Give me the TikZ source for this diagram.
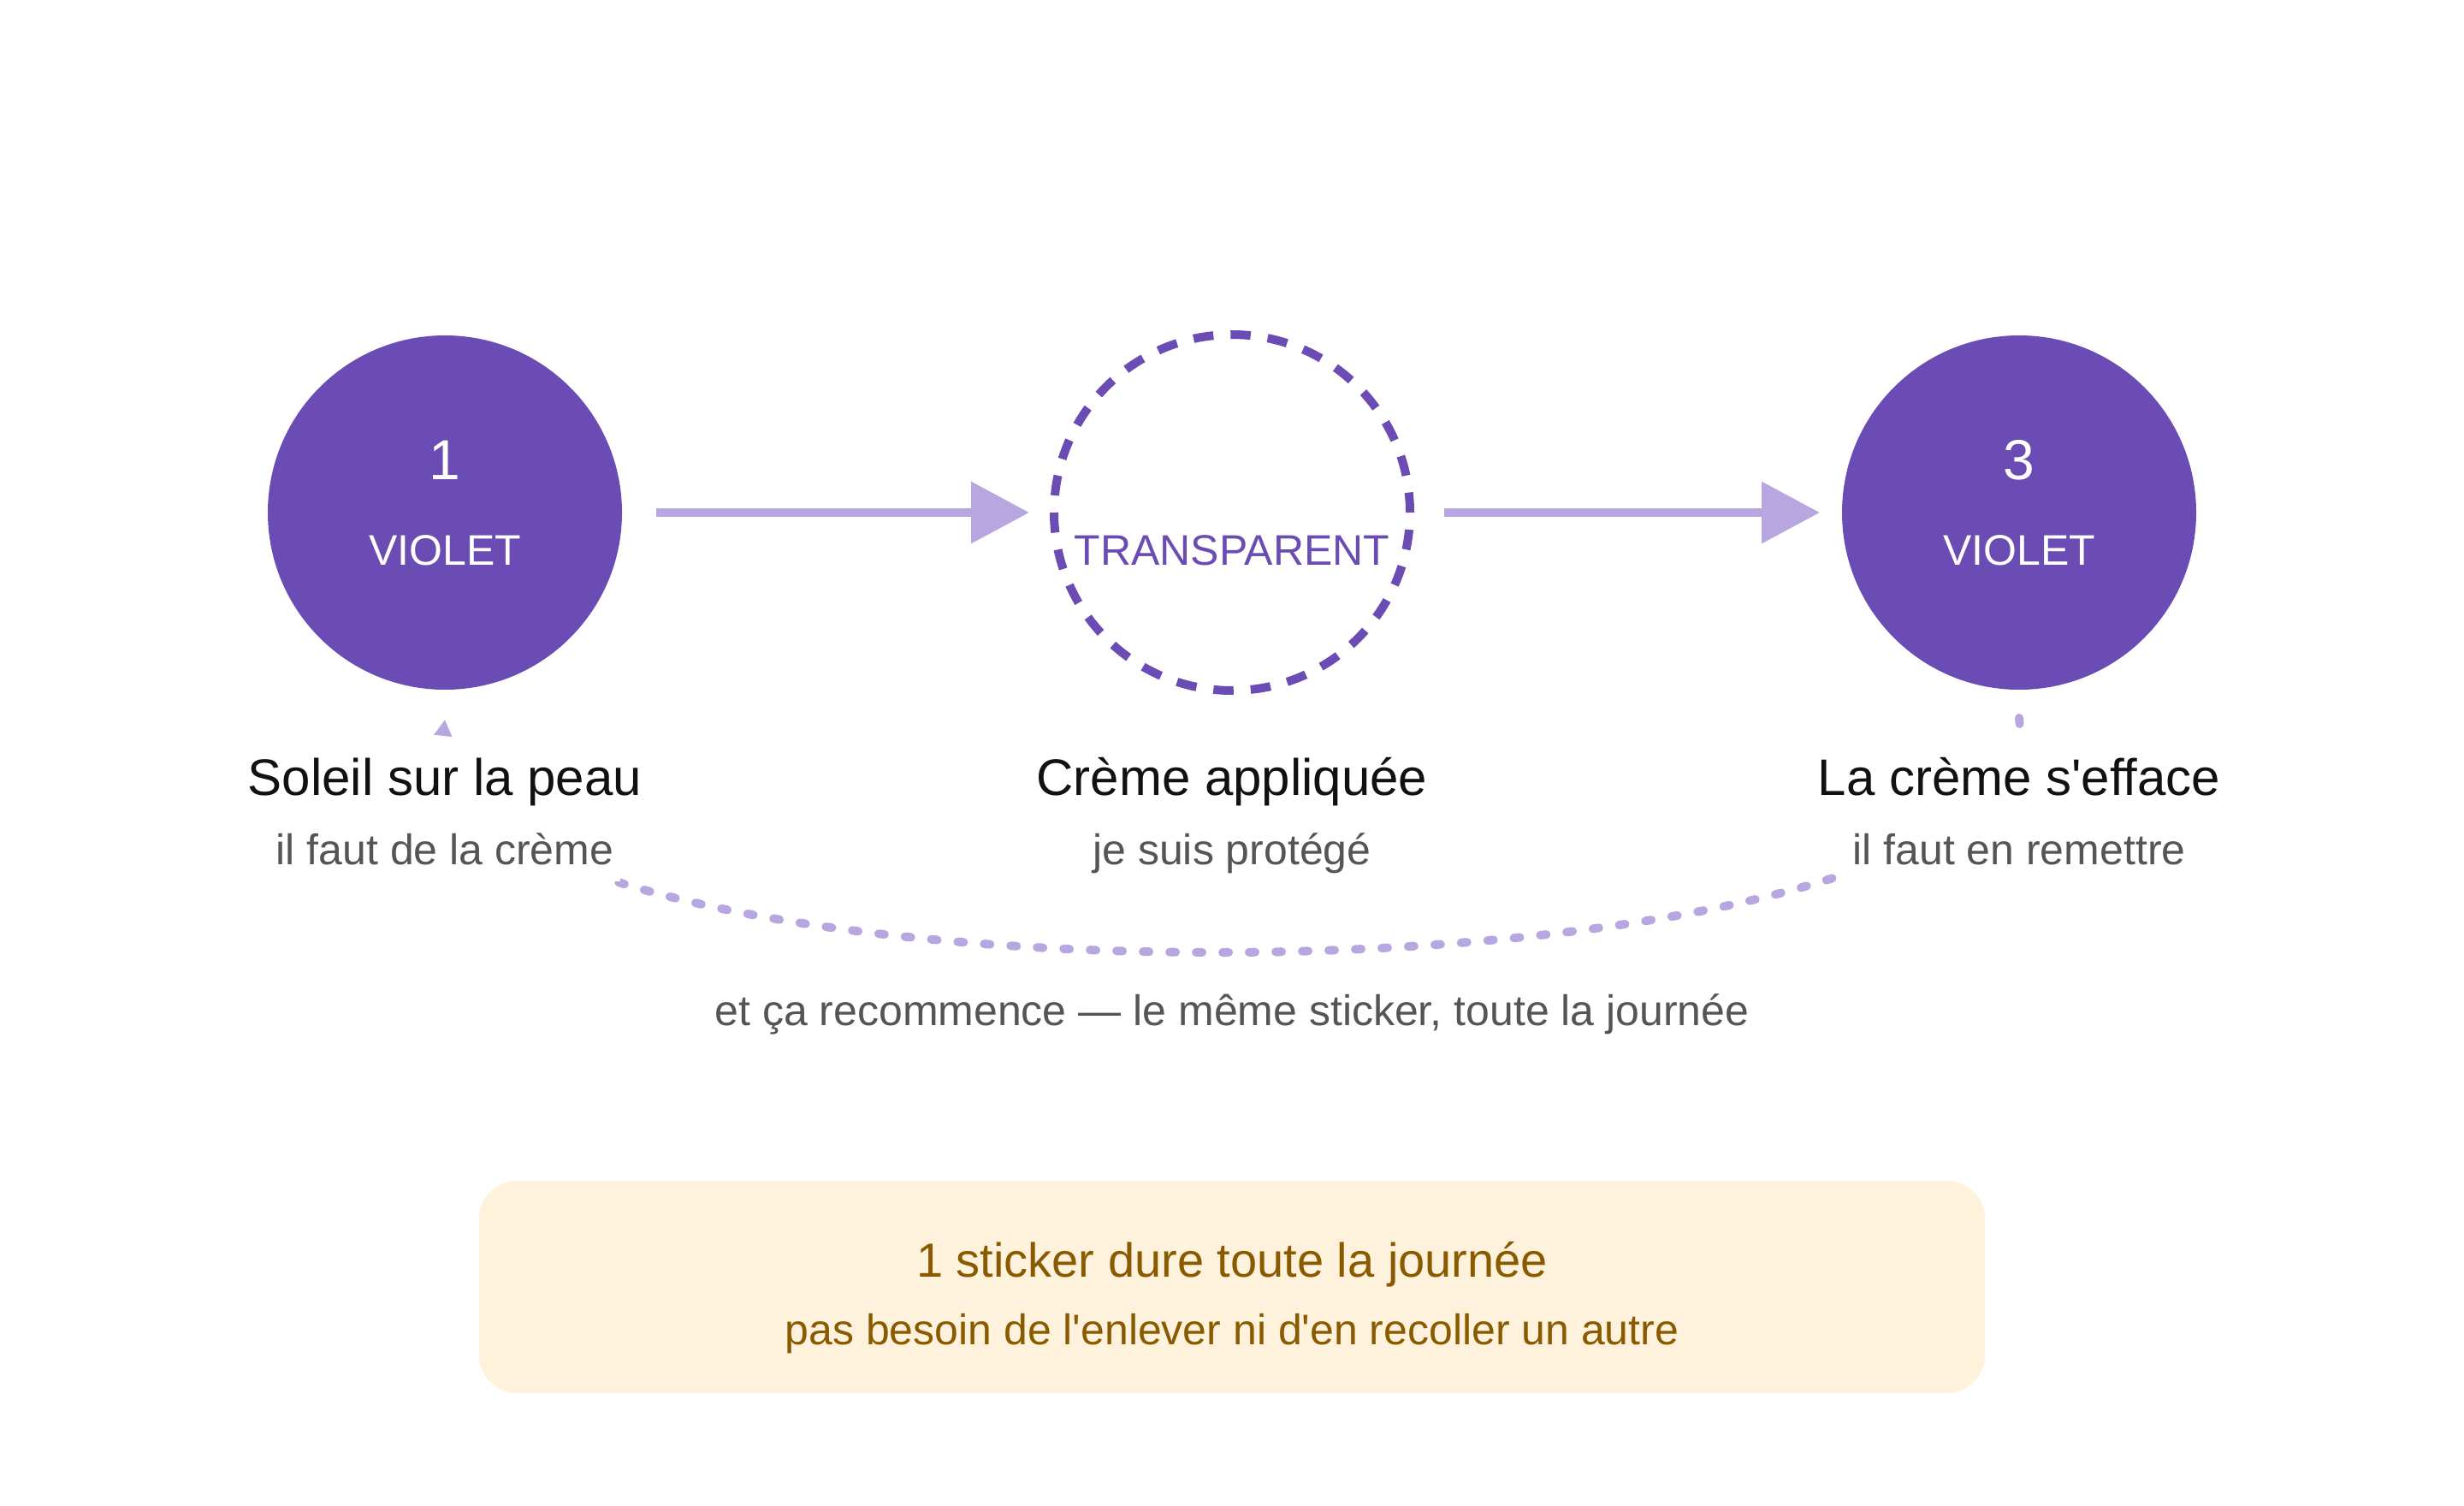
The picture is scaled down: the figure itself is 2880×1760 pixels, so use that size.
\documentclass[tikz,border=0pt]{standalone}
\usepackage{fontspec}
\setmainfont{Liberation Sans}
\usetikzlibrary{arrows.meta}
\definecolor{vio}{HTML}{6B4BB4}
\definecolor{lvio}{HTML}{B8A6E0}
\definecolor{ink}{HTML}{111111}
\definecolor{gry}{HTML}{555555}
\definecolor{cream}{HTML}{FEF2DC}
\definecolor{brn}{HTML}{8A5A00}
\begin{document}
\begin{tikzpicture}[x=1pt,y=-1pt,
  disc/.style={circle,fill=vio,minimum size=414pt,inner sep=0pt,outer sep=0pt},
  ghost/.style={circle,draw=vio,line width=10pt,dash pattern=on 23.5pt off 20.07pt,minimum size=416pt,inner sep=0pt,outer sep=0pt},
  flow/.style={draw=lvio,line width=10pt,-{Triangle[length=68pt,width=70pt]}},
  loopline/.style={draw=lvio,line width=10pt,line cap=round,dash pattern=on 7pt off 24pt,-{Triangle[length=19pt,width=20pt]}},
  numtxt/.style={font=\fontsize{66pt}{78pt}\selectfont,text=white,anchor=base,inner sep=0pt},
  intxt/.style={font=\fontsize{50pt}{60pt}\selectfont,anchor=base,inner sep=0pt},
  title/.style={font=\fontsize{60pt}{72pt}\selectfont,text=ink,fill=white,anchor=base,text height=48pt,text depth=14pt,inner xsep=8pt,inner ysep=18pt},
  sub/.style={font=\fontsize{50pt}{60pt}\selectfont,text=gry,fill=white,anchor=base,text height=38pt,text depth=0pt,inner xsep=8pt,inner ysep=20pt},
  note/.style={font=\fontsize{50pt}{60pt}\selectfont,text=gry,anchor=base,inner sep=0pt},
  boxtxt/.style={text=brn,anchor=base,inner sep=0pt}
]
\useasboundingbox (0,0) rectangle (2880,1760);

% circles
\node[disc] (c1) at (520,599) {};
\node[ghost] (c2) at (1440,599) {};
\node[disc] (c3) at (2360,599) {};

\node[numtxt] (n1) at (520,560) {1};
\node[intxt,text=white] (v1) at (520,660) {VIOLET};
\node[intxt,text=vio] (t2) at (1440,660) {TRANSPARENT};
\node[numtxt] (n3) at (2360,560) {3};
\node[intxt,text=white] (v3) at (2360,660) {VIOLET};

% forward arrows
\draw[flow] ([xshift=40pt]c1.east) -- ([xshift=-29pt]c2.west);
\draw[flow] ([xshift=40pt]c2.east) -- ([xshift=-26pt]c3.west);

% loop back
\draw[loopline] ([yshift=-33pt]c3.south) .. controls (2402,1201) and (478,1201) .. ([yshift=-35pt]c1.south);

% labels
\node[sub] (s1) at (520,1010) {il faut de la crème};
\node[title] (l1) at (520,929) {Soleil sur la peau};
\node[sub] (s2) at (1440,1010) {je suis protégé};
\node[title] (l2) at (1440,929) {Crème appliquée};
\node[sub] (s3) at (2360,1010) {il faut en remettre};
\node[title] (l3) at (2360,929) {La crème s\textquotesingle efface};

\node[note] (again) at (1440,1198) {et ça recommence — le même sticker, toute la journée};

% bottom box
\node[fill=cream,rounded corners=44pt,minimum width=1760pt,minimum height=248pt,inner sep=0pt] (box) at (1440,1504) {};
\node[boxtxt,font=\fontsize{56pt}{66pt}\selectfont] (b1) at (1440,1492) {1 sticker dure toute la journée};
\node[boxtxt,font=\fontsize{50pt}{60pt}\selectfont] (b2) at (1440,1571) {pas besoin de l\textquotesingle enlever ni d\textquotesingle en recoller un autre};
\end{tikzpicture}
\end{document}
